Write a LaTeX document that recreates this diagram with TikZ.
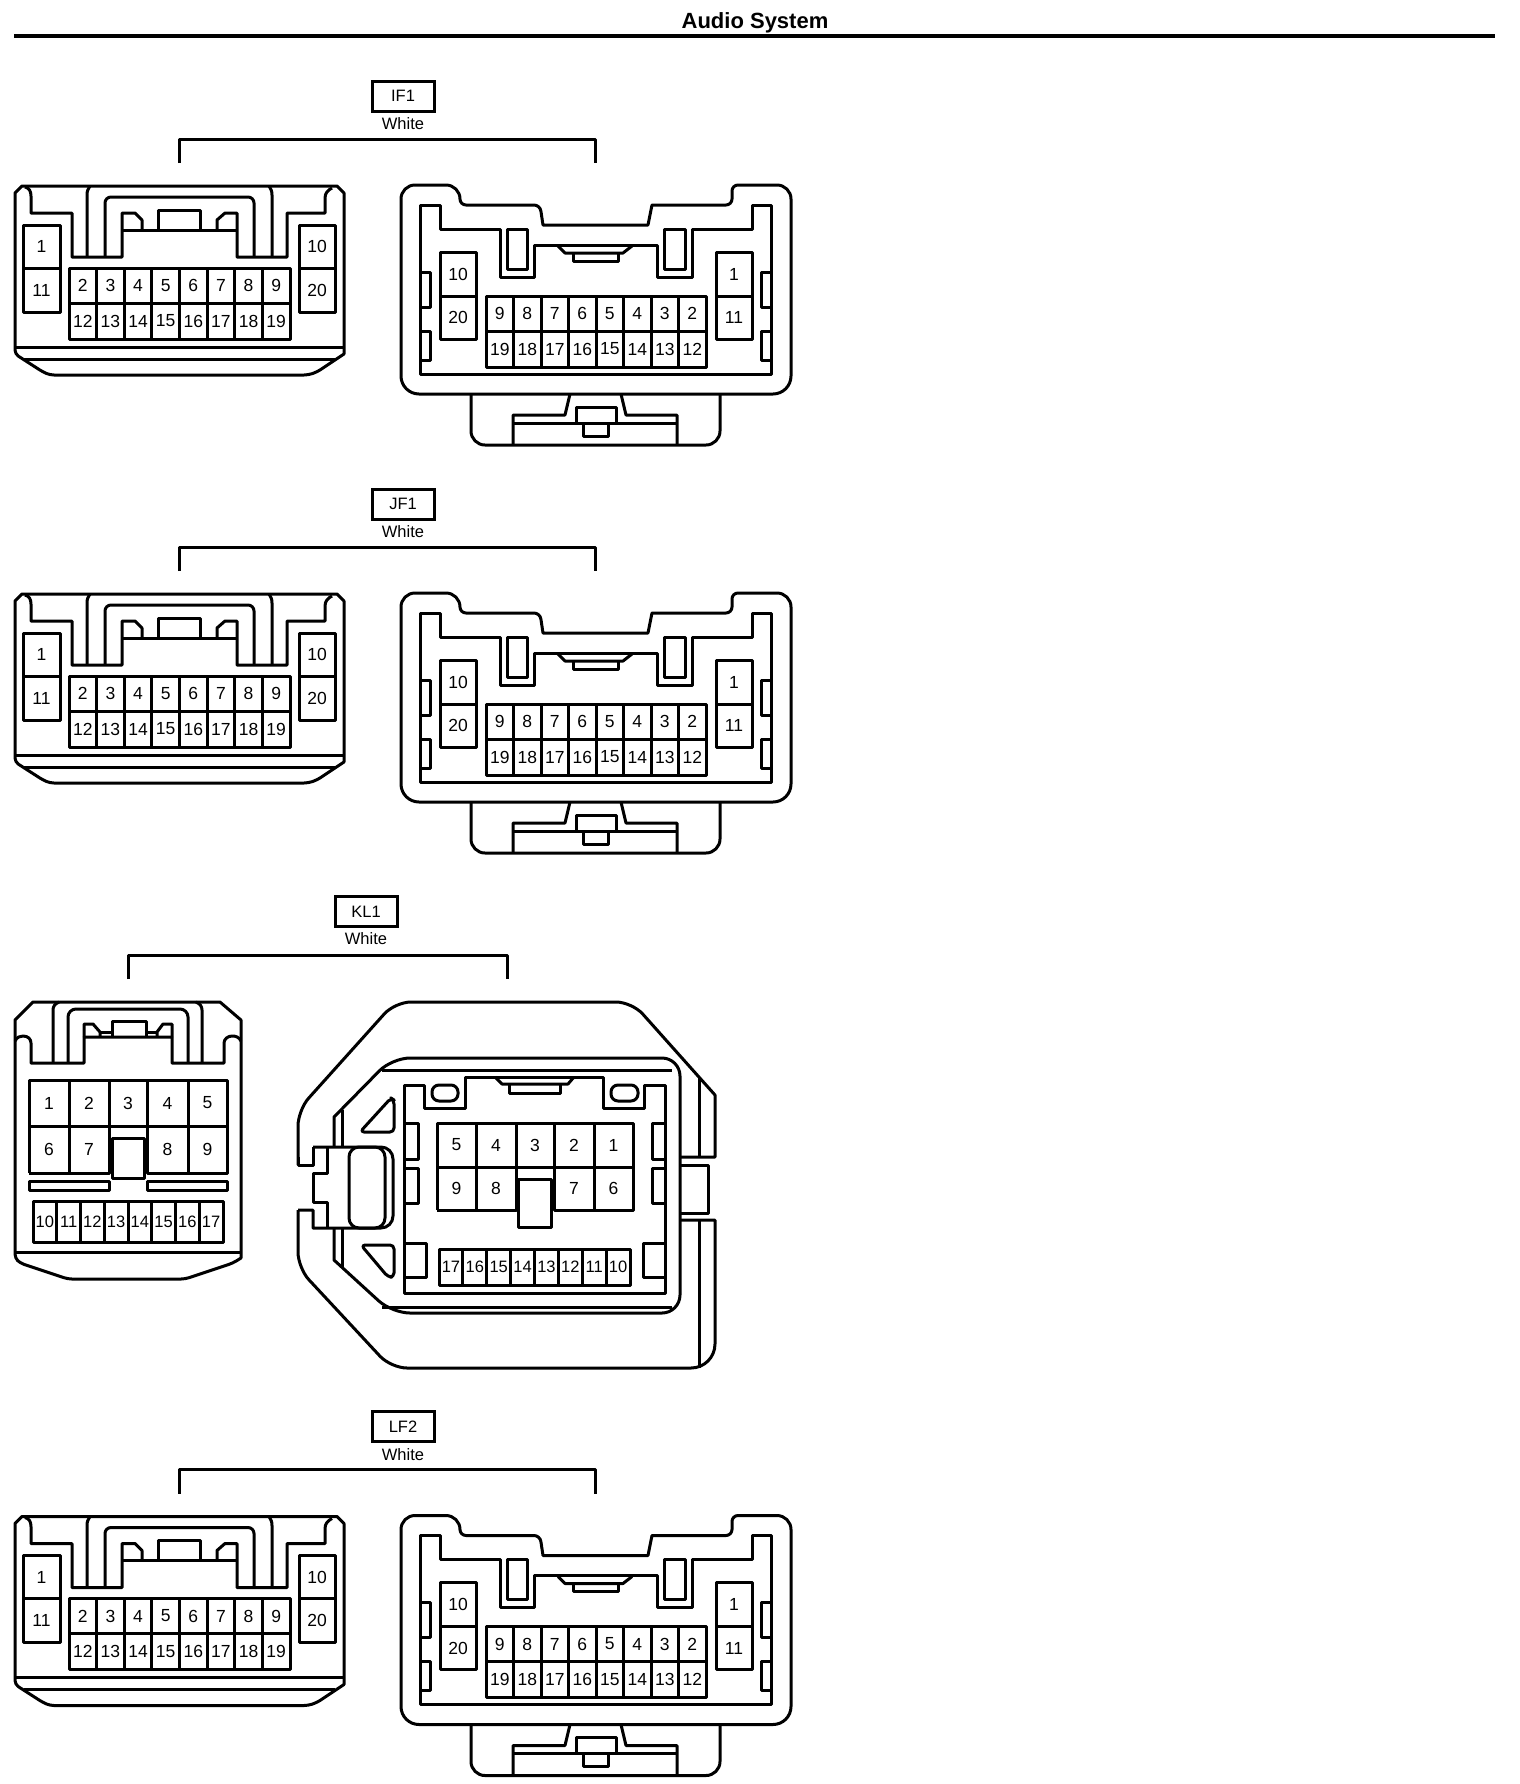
\documentclass[tikz,border=0pt]{standalone}
\usepackage{fontspec}
\setmainfont{Liberation Sans}
\tikzset{
  ln/.style={draw=black,line width=1.5pt,line join=round},
  pin/.style={inner sep=0pt,font=\fontsize{8.75}{9}\selectfont},
  pinsmall/.style={inner sep=0pt,font=\fontsize{8.25}{9}\selectfont},
  tagbox/.style={draw=black,line width=1.5pt,minimum width=31pt,minimum height=15pt,inner sep=0pt,font=\fontsize{8.25}{9}\selectfont},
  tagcolor/.style={inner sep=0pt,font=\fontsize{8.25}{9}\selectfont},
  titletext/.style={inner sep=0pt,font=\fontsize{11}{11}\selectfont\bfseries},
}
% two-row grid of n columns
\newcommand\gridtwo[9]{% prefix,n,x0,x1,ytop,ymid,ybot,top,bottom
  \draw[ln] (#3,#5) rectangle (#4,#7);
  \draw[ln] (#3,#6) -- (#4,#6);
  \foreach \i in {1,...,7} \draw[ln] ({#3+\i*(#4-#3)/#2},#5) -- ({#3+\i*(#4-#3)/#2},#7);
  \foreach \l [count=\c from 0] in {#8} \node[pin] (#1a\l) at ({#3+(\c+.5)*(#4-#3)/#2},{(#5+#6)/2}) {\l};
  \foreach \l [count=\c from 0] in {#9} \node[pin] (#1b\l) at ({#3+(\c+.5)*(#4-#3)/#2},{(#6+#7)/2}) {\l};
}
\newcommand\gridone[6]{% prefix,x0,x1,ytop,ybot,labels
  \draw[ln] (#2,#4) rectangle (#3,#5);
  \foreach \i in {1,...,7} \draw[ln] ({#2+\i*(#3-#2)/8},#4) -- ({#2+\i*(#3-#2)/8},#5);
  \foreach \l [count=\c from 0] in {#6} \node[pinsmall] (#1c\l) at ({#2+(\c+.5)*(#3-#2)/8},{(#4+#5)/2}) {\l};
}
\newcommand\sideblock[6]{% prefix,x0,x1,ytop,ymid,ybot then labels via \sidelabels
  \draw[ln] (#2,#4) rectangle (#3,#6);
  \draw[ln] (#2,#5) -- (#3,#5);
}
\newcommand\sidelabels[7]{% prefix,x0,x1,ytop,ymid,ybot, top/bottom
  \sideblock{#1}{#2}{#3}{#4}{#5}{#6}
  \foreach \u/\v in {#7} {
    \node[pin] (#1u\u) at ({(#2+#3)/2},{(#4+#5)/2}) {\u};
    \node[pin] (#1v\v) at ({(#2+#3)/2},{(#5+#6)/2}) {\v};
  }
}
\newcommand\headerpair[2]{% prefix, text (IF1 coordinates)
  \node[tagbox] (#1box) at (403,96) {#2};
  \node[tagcolor] (#1col) at (403,124) {White};
  \coordinate (#1l) at (179,163);
  \coordinate (#1r) at (595,163);
  \draw[ln] (#1l) -- ++(0,-24) -| (#1r);
}
\newcommand\leftconn[1]{%
  \draw[ln] (15,193) -- (22,186) -- (337,186) -- (344,193) -- (344,354)
     [rounded corners=2pt] -- (317,372) -- (308,375) -- (50,375) -- (43,372) -- (15,354) [sharp corners] -- cycle;
  \draw[ln] (15,347) -- (344,347);
  \draw[ln] (24,359) -- (335,359);
  \draw[ln] (25,187) .. controls (29,188) and (31,191) .. (31,196) -- (31,213) -- (72,213) -- (72,257) -- (122,257) -- (122,213) -- (135,213) -- (142,220) -- (142,230);
  \draw[ln] (332,188) .. controls (328,190) and (325,193) .. (325,198) -- (325,213) -- (287,213) -- (287,257) -- (237,257) -- (237,213) -- (225,213) -- (217,220) -- (217,230);
  \draw[ln] (122,230) -- (237,230);
  \draw[ln] (158,230) -- (158,210) -- (200,210) -- (200,230);
  \draw[ln] (87,257) -- (87,195) .. controls (87,191) and (88,189) .. (90,186);
  \draw[ln] (272,257) -- (272,195) .. controls (272,191) and (271,189) .. (269,186);
  \draw[ln] [rounded corners=3pt] (105,257) -- (105,197) -- (254,197) -- (254,257);
  \sidelabels{#1l}{23}{60}{225}{268}{312}{1/11}
  \sidelabels{#1m}{299}{335}{225}{268}{312}{10/20}
  \gridtwo{#1g}{8}{69}{290}{268}{303}{339}{2,3,4,5,6,7,8,9}{12,13,14,15,16,17,18,19}
}
\newcommand\rightconn[1]{%
  \draw[ln] (401,205) [rounded corners=7pt] -- (401,185) -- (460,185)[rounded corners=3pt] -- (460,205) -- (540,205) [sharp corners] -- (543,225) -- (648,225) -- (652,205) [rounded corners=3pt] -- (732,205) -- (732,185) [rounded corners=7pt] -- (791,185) [rounded corners=9pt] -- (791,394) -- (401,394) [sharp corners] -- cycle;
  \draw[ln] (420,205) -- (440,205) -- (440,229) -- (500,229) -- (500,277) -- (534,277) -- (534,245) -- (657,245) -- (657,277) -- (692,277) -- (692,229) -- (752,229) -- (752,205) -- (771,205) -- (771,374) -- (420,374) -- cycle;
  \draw[ln] (507,229) rectangle (527,269);
  \draw[ln] (664,229) rectangle (685,269);
  \draw[ln] (558,246) -- (565,253) -- (623,253) -- (632,246);
  \draw[ln] (573,253) -- (573,261) -- (618,261) -- (618,253);
  \sidelabels{#1r}{440}{476}{252}{296}{339}{10/20}
  \sidelabels{#1s}{716}{752}{252}{296}{339}{1/11}
  \gridtwo{#1h}{8}{486}{706}{296}{331}{367}{9,8,7,6,5,4,3,2}{19,18,17,16,15,14,13,12}
  \draw[ln] (420,272) -- (430,272) -- (430,307) -- (420,307);
  \draw[ln] (420,331) -- (430,331) -- (430,360) -- (420,360);
  \draw[ln] (771,272) -- (761,272) -- (761,307) -- (771,307);
  \draw[ln] (771,331) -- (761,331) -- (761,360) -- (771,360);
  \draw[ln] [rounded corners=7pt] (471,394) -- (471,445) -- (720,445) -- (720,394);
  \draw[ln] (513,445) -- (513,415) -- (565,415) -- (570,394);
  \draw[ln] (513,423) -- (677,423);
  \draw[ln] (677,445) -- (677,415) -- (626,415) -- (621,394);
  \draw[ln] (576,423) -- (576,407) -- (616,407) -- (616,423);
  \draw[ln] (583,423) -- (583,436) -- (608,436) -- (608,423);
}
\begin{document}
\begin{tikzpicture}[x=0.5pt,y=-0.5pt]
\useasboundingbox (0,0) rectangle (1520,1784);
% title
\node[titletext] (title) at (755,22.5) {Audio System};
\coordinate (ruleL) at (14,36);
\coordinate (ruleR) at (1495,36);
\draw[draw=black,line width=2pt] (ruleL) -- (ruleR);
% IF1
\headerpair{if}{IF1}
\leftconn{if}
\rightconn{if}
% JF1
\begin{scope}[shift={(0,408)}]
\headerpair{jf}{JF1}
\leftconn{jf}
\rightconn{jf}
\end{scope}
% LF2
\begin{scope}[shift={(0,1330.5)}]
\headerpair{lf}{LF2}
\leftconn{lf}
\rightconn{lf}
\end{scope}
% KL1 header
\node[tagbox] (klbox) at (366,911.5) {KL1};
\node[tagcolor] (klcol) at (366,939) {White};
\coordinate (kll) at (128,979);
\coordinate (klr) at (507,979);
\draw[ln] (kll) -- ++(0,-24) -| (klr);
% KL1 left connector
\draw[ln] (15,1020) -- (33,1002) -- (220,1002) -- (241,1020) -- (241,1258) [rounded corners=2pt] -- (233,1263) -- (185,1279) -- (68,1279) -- (20,1263) -- (15,1258) [sharp corners] -- cycle;
\draw[ln] (15,1252) -- (241,1252);
\draw[ln] (15,1041) .. controls (17,1037) and (20,1036) .. (23,1036) .. controls (28,1036) and (31,1039) .. (31,1043) -- (31,1063) -- (84,1063) -- (84,1037) -- (172,1037) -- (172,1063) -- (224,1063) -- (224,1043) .. controls (224,1039) and (228,1036) .. (232,1036) .. controls (236,1036) and (239,1037) .. (241,1041);
\draw[ln] (53,1063) -- (53,1010) .. controls (53,1006) and (55,1004) .. (59,1002);
\draw[ln] (202,1063) -- (202,1010) .. controls (202,1006) and (200,1004) .. (196,1002);
\draw[ln] [rounded corners=4pt] (68,1063) -- (68,1009) -- (188,1009) -- (188,1063);
\draw[ln] (84,1037) -- (84,1024) -- (93,1024) -- (100,1032) -- (100,1037);
\draw[ln] (100,1032) -- (112,1032);
\draw[ln] (112,1037) -- (112,1021) -- (146,1021) -- (146,1037);
\draw[ln] (146,1032) -- (157,1032);
\draw[ln] (157,1037) -- (157,1032) -- (163,1024) -- (172,1024) -- (172,1037);
% KL1 left pins
\draw[ln] (29,1173) -- (29,1080) -- (227,1080) -- (227,1173) -- (147,1173) -- (147,1080);
\draw[ln] (29,1173) -- (109,1173) -- (109,1080);
\draw[ln] (29,1126) -- (227,1126);
\draw[ln] (69,1080) -- (69,1173);
\draw[ln] (188,1080) -- (188,1173);
\draw[ln,fill=white] (112,1138) rectangle (144,1178);
\draw[ln] (29,1181) rectangle (109,1190);
\draw[ln] (147,1181) rectangle (227,1190);
\foreach \l/\x in {1/49,2/89,3/128,4/167.5,5/207.5} \node[pin] (kla\l) at (\x,1103) {\l};
\foreach \l/\x in {6/49,7/89,8/167.5,9/207.5} \node[pin] (klb\l) at (\x,1149.5) {\l};
\gridone{kld}{33}{223}{1201}{1242}{10,11,12,13,14,15,16,17}
% KL1 right connector
\draw[ln] (298,1157) -- (298,1165) -- (313,1165) -- (313,1147);
\draw[ln] [rounded corners=8pt] (298,1165) -- (298,1110) -- (395,1002) -- (632,1002) [sharp corners] -- (715,1095) -- (715,1157) -- (680,1157);
\draw[ln] (313,1147) -- (380,1147) [rounded corners=6pt] -- (393,1147) -- (393,1228) [sharp corners] -- (313,1228) -- (313,1210) -- (298,1210);
\draw[ln] [rounded corners=8pt] (298,1210) -- (298,1268) -- (391,1368) [rounded corners=12pt] -- (715,1368) [sharp corners] -- (715,1220) -- (680,1220);
\draw[ln] (327,1147) -- (327,1173) -- (313,1173) -- (313,1202) -- (327,1202) -- (327,1228);
\draw[ln] [rounded corners=5pt] (349,1147) rectangle (385,1228);
\draw[ln] (699,1078) -- (699,1157);
\draw[ln] (699,1220) -- (699,1368);
\draw[ln] (681,1165) -- (708,1165) -- (708,1213) -- (681,1213);
% inner shell
\draw[ln] (334,1147) -- (334,1117) [rounded corners=9pt] -- (392,1058) -- (680,1058) -- (680,1313) -- (392,1313) [sharp corners] -- (334,1260) -- (334,1228);
\draw[ln] (342,1147) -- (342,1110);
\draw[ln] (342,1228) -- (342,1267);
\draw[ln] (382,1070) -- (672,1070);
\draw[ln] (382,1307) -- (672,1307);
% inner rectangle
\draw[ln] (404,1085) -- (424,1085) -- (424,1108) -- (465,1108) -- (465,1077) -- (603,1077) -- (603,1108) -- (644,1108) -- (644,1085) -- (665,1085) -- (665,1293) -- (404,1293) -- cycle;
\draw[ln] [rounded corners=3.5pt] (432,1085) rectangle (458,1101);
\draw[ln] [rounded corners=3.5pt] (611,1085) rectangle (638,1101);
\draw[ln] (495,1077) -- (502,1084) -- (568,1084) -- (574,1077);
\draw[ln] (509,1084) -- (509,1093) -- (560,1093) -- (560,1084);
\draw[ln] [rounded corners=2pt] (360,1132) -- (391,1098) -- (394,1100) -- (394,1132) -- cycle;
\draw[ln] [rounded corners=2pt] (361,1245) -- (394,1245) -- (394,1277) -- (388,1277) -- cycle;
\draw[ln] (404,1123) -- (418,1123) -- (418,1159) -- (404,1159);
\draw[ln] (404,1168) -- (418,1168) -- (418,1203) -- (404,1203);
\draw[ln] (404,1243) -- (426,1243) -- (426,1277) -- (404,1277);
\draw[ln] (665,1123) -- (652,1123) -- (652,1159) -- (665,1159);
\draw[ln] (665,1168) -- (652,1168) -- (652,1203) -- (665,1203);
\draw[ln] (665,1243) -- (643,1243) -- (643,1277) -- (665,1277);
% KL1 right pins
\draw[ln] (437,1210) -- (437,1123) -- (633,1123) -- (633,1210) -- (554,1210) -- (554,1123);
\draw[ln] (437,1210) -- (516,1210) -- (516,1123);
\draw[ln] (437,1167) -- (633,1167);
\draw[ln] (476,1123) -- (476,1210);
\draw[ln] (594,1123) -- (594,1210);
\draw[ln,fill=white] (518,1179) rectangle (551,1227);
\foreach \l/\x in {5/456.5,4/496,3/535,2/574,1/613.5} \node[pin] (kle\l) at (\x,1145) {\l};
\foreach \l/\x in {9/456.5,8/496,7/574,6/613.5} \node[pin] (klf\l) at (\x,1188.5) {\l};
\gridone{klg}{439}{630}{1249}{1285}{17,16,15,14,13,12,11,10}
\end{tikzpicture}
\end{document}
